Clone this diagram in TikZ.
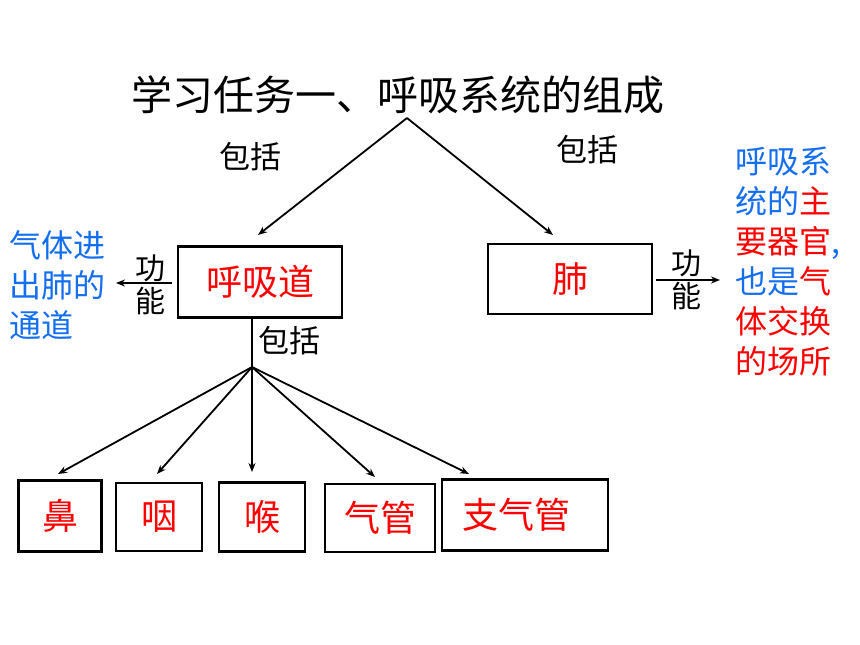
\documentclass[tikz,border=0pt]{standalone}
\usepackage{fontspec}
\setmainfont{Noto Sans CJK SC}
\usetikzlibrary{arrows.meta}
\definecolor{cblue}{RGB}{20,110,240}
\definecolor{cred}{RGB}{255,0,0}
\tikzset{
  box/.style={draw=black, line width=2.4pt, inner sep=0pt, text=cred, font=\fontsize{36}{40}\selectfont},
  conn/.style={line width=1.8pt, -{Stealth[length=9pt,width=7pt]}},
  lbl/.style={inner sep=0pt, font=\fontsize{31}{36}\selectfont},
  vlbl/.style={inner sep=0pt, align=center, font=\fontsize{30}{33}\selectfont},
  note/.style={inner sep=0pt, align=left, font=\fontsize{32}{40}\selectfont},
}
\begin{document}
\begin{tikzpicture}[x=1pt,y=-1pt]
\useasboundingbox (0,0) rectangle (860,645);
\node[inner sep=0pt, font=\fontsize{41}{45}\selectfont] (title) at (398,95) {学习任务一、呼吸系统的组成};
\coordinate (apex) at (407,118);
\node[box, minimum width=164pt, minimum height=71pt] (airway) at (260,282) {呼吸道};
\node[box, minimum width=164pt, minimum height=70pt] (lung) at (570,279) {肺};
\coordinate (aw-top) at (258,235);
\coordinate (lu-top) at (553,235);
\draw[conn] (apex) -- (aw-top);
\draw[conn] (apex) -- (lu-top);
\node[lbl] (inc1) at (250,157) {包括};
\node[lbl] (inc2) at (587,150) {包括};
% left function
\coordinate (lf-end) at (116,283);
\draw[conn] (airway.west) ++(-5,1) coordinate (lf-start) -- (lf-end);
\node[vlbl] (fn1) at (150,285) {功\\能};
\node[note, text=cblue, anchor=west] (n1) at (9,285) {气体进\\出肺的\\通道};
% right function
\coordinate (rf-start) at (656,280);
\coordinate (rf-end) at (720,280);
\draw[conn] (rf-start) -- (rf-end);
\node[vlbl] (fn2) at (686,280) {功\\能};
\node[note, anchor=west] (n2) at (735,261) {\color{cblue}呼吸系\\\color{cblue}统的\color{cred}主\\\color{cred}要器官\color{cblue},\\\color{cblue}也是\color{cred}气\\\color{cred}体交换\\\color{cred}的场所};
% fan
\coordinate (fan) at (252,367);
\draw[line width=1.8pt] (252,318) -- (fan);
\node[lbl, anchor=west] (inc3) at (258,341) {包括};
\node[box, minimum width=83pt, minimum height=71pt] (b1) at (60,516) {鼻};
\node[box, minimum width=86pt, minimum height=68pt] (b2) at (159,517) {咽};
\node[box, minimum width=86pt, minimum height=69pt] (b3) at (262,517) {喉};
\node[box, minimum width=110pt, minimum height=68pt] (b4) at (380,518) {气管};
\node[box, minimum width=166pt, minimum height=71pt] (b5) at (525,515) {\hspace*{-18pt}支气管};
\coordinate (t1) at (58,474);
\coordinate (t2) at (157,474);
\coordinate (t3) at (252,472);
\coordinate (t4) at (375,477);
\coordinate (t5) at (469,474);
\foreach \t in {t1,t2,t3,t4,t5} \draw[conn] (fan) -- (\t);
\end{tikzpicture}
\end{document}
